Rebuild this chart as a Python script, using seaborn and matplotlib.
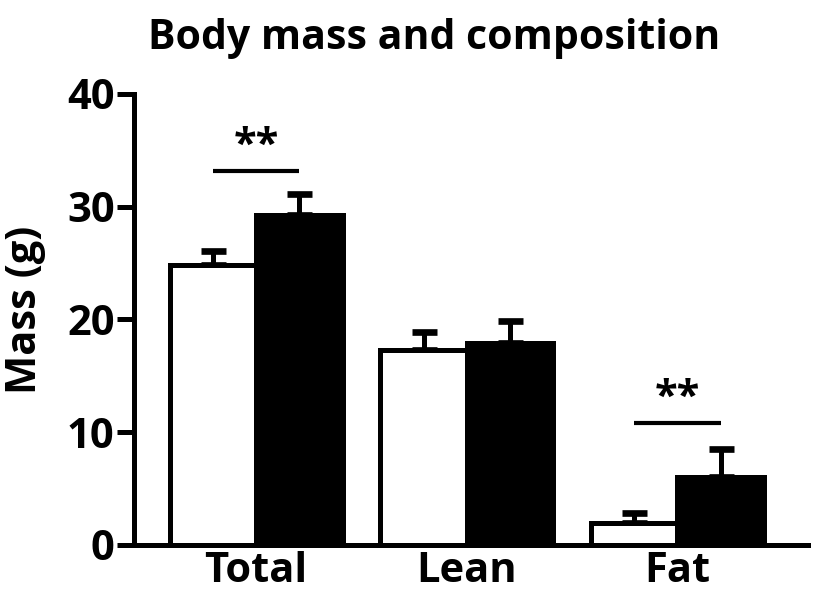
import matplotlib
matplotlib.use("Agg")
import matplotlib.pyplot as plt
import seaborn as sns
import pandas as pd

categories = ["Total", "Lean", "Fat"]
groups = ["Control", "Treated"]
control_means = [24.8, 17.3, 1.95]
control_err = [1.25, 1.6, 0.9]
treated_means = [29.3, 17.9, 6.0]
treated_err = [1.8, 2.0, 2.5]
sig_categories = ["Total", "Fat"]
sig_heights = [33.2, 10.85]
sig_labels = ["**", "**"]
y_ticks = [0, 10, 20, 30, 40]

sns.set_style("ticks")
plt.rcParams["font.family"] = ["Open Sans", "DejaVu Sans"]
plt.rcParams["font.weight"] = "bold"
for k in ["text.color", "axes.labelcolor", "xtick.color", "ytick.color", "axes.edgecolor"]:
    plt.rcParams[k] = "black"

df = pd.DataFrame({
    "category": categories * 2,
    "group": [groups[0]] * 3 + [groups[1]] * 3,
    "mass": control_means + treated_means,
})

fig = plt.figure(figsize=(8.17, 5.99), dpi=100)
ax = fig.add_axes([0.164, 0.0902, 0.825, 0.753])

LW = 3.6
sns.barplot(data=df, x="category", y="mass", hue="group", order=categories,
            hue_order=groups, palette={"Control": "white", "Treated": "black"},
            edgecolor="black", linewidth=LW, width=0.82, errorbar=None,
            legend=False, ax=ax, zorder=3)

errs = [control_err, treated_err]
means = [control_means, treated_means]
centers = {}
bar_containers = list(ax.containers)
for gi, cont in enumerate(bar_containers):
    xs = [p.get_x() + p.get_width() / 2 for p in cont.patches]
    for ci, x in enumerate(xs):
        centers[(gi, ci)] = x
    ax.errorbar(xs, means[gi], yerr=[[0] * len(xs), errs[gi]], fmt="none",
                ecolor="black", elinewidth=LW, capsize=9, capthick=LW + 1.2,
                zorder=2)

for cat, h, lab in zip(sig_categories, sig_heights, sig_labels):
    ci = categories.index(cat)
    x0, x1 = centers[(0, ci)], centers[(1, ci)]
    ax.plot([x0, x1], [h, h], color="black", lw=3.0, solid_capstyle="butt")
    ax.text((x0 + x1) / 2, h + 0.3, lab, ha="center", va="bottom",
            fontsize=30, fontweight="bold")

ax.set_ylim(0, 40)
ax.set_xlim(-0.58, 2.62)
ax.set_yticks(y_ticks)
ax.set_ylabel("")
ax.set_xlabel("")
fig.text(0.031, 0.482, "Mass (g)", rotation=90, ha="center", va="center",
         fontsize=30, fontweight="bold")
fig.text(0.531, 0.936, "Body mass and composition", ha="center", va="center",
         fontsize=29.5, fontweight="bold")
for s in ["top", "right"]:
    ax.spines[s].set_visible(False)
for s in ["left", "bottom"]:
    ax.spines[s].set_linewidth(LW)
    ax.spines[s].set_capstyle("projecting")
ax.tick_params(axis="y", length=12, width=LW, labelsize=30, pad=2)
ax.tick_params(axis="x", length=0, labelsize=30, pad=4)
for lab in ax.get_xticklabels() + ax.get_yticklabels():
    lab.set_fontweight("bold")

fig.savefig("out.png", dpi=100)
